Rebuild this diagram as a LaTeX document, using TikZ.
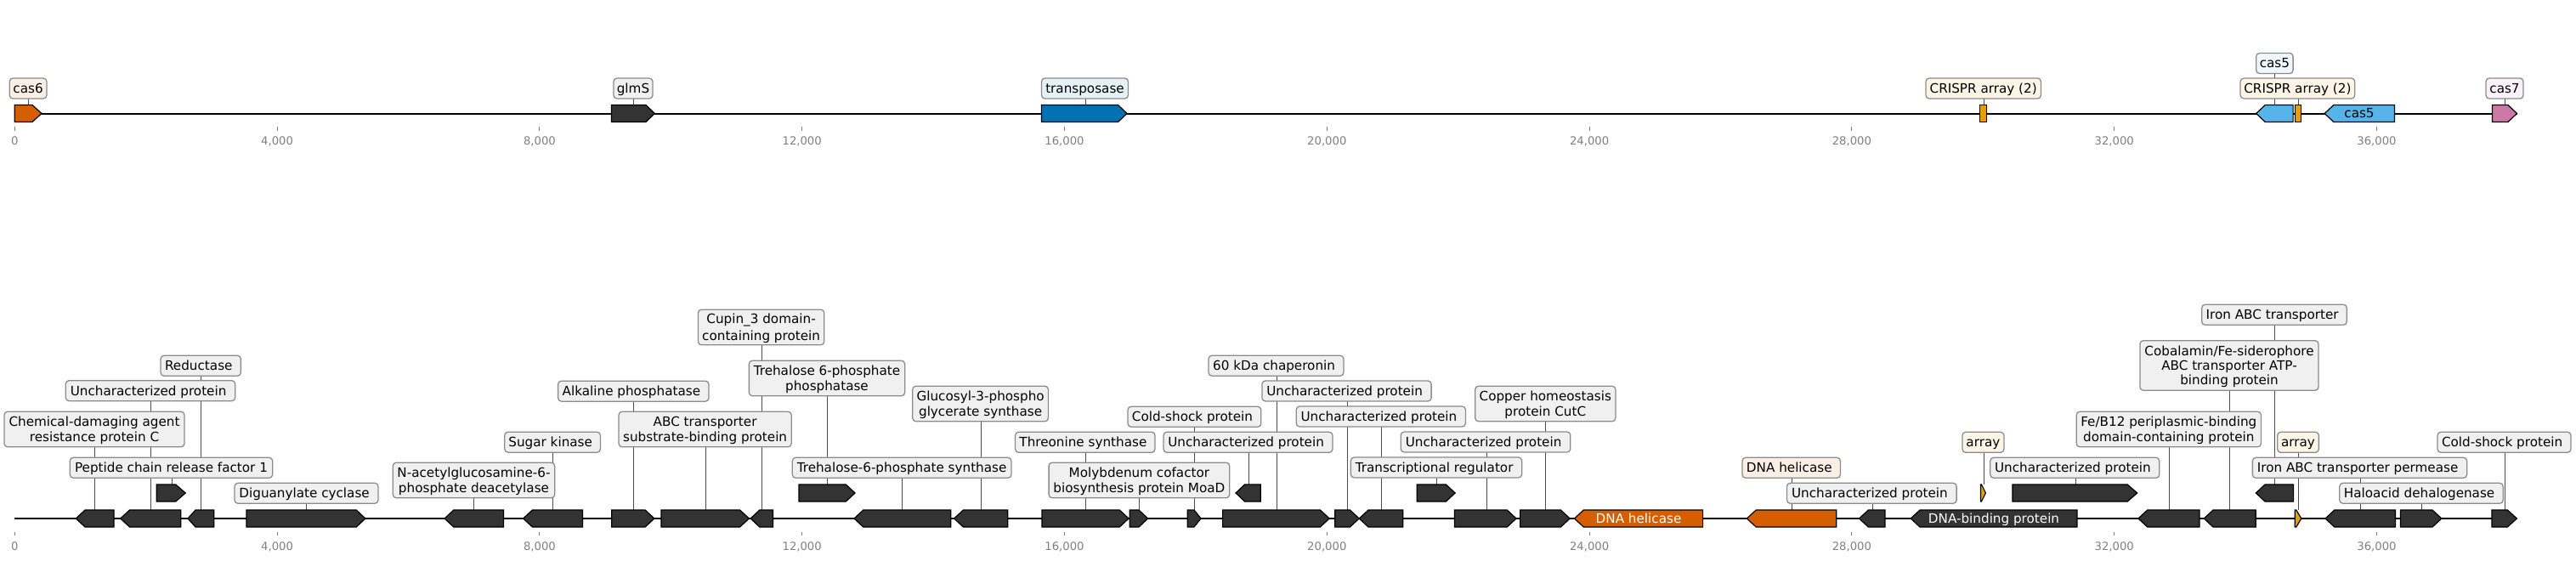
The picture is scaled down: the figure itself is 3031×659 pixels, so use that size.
\documentclass[tikz,border=0pt]{standalone}
\usepackage{fontspec}
\setmainfont{DejaVu Sans}
\definecolor{dk}{HTML}{333333}
\definecolor{orng}{HTML}{D55E00}
\definecolor{yel}{HTML}{E69F00}
\definecolor{blu}{HTML}{0072B2}
\definecolor{sky}{HTML}{56B4E9}
\definecolor{pnk}{HTML}{CC79A7}
\definecolor{lgray}{HTML}{F0F0F0}
\definecolor{boxedge}{HTML}{8C8C8C}
\definecolor{connc}{HTML}{4D4D4D}
\definecolor{tickc}{HTML}{808080}
\newcommand\lblfont{\fontsize{7.6}{8.65}\selectfont}
\newcommand\tickfont{\fontsize{6.6}{7.9}\selectfont}
\newcommand\ms{\rule[-1.625pt]{0pt}{8.65pt}}
\newcommand\tsp{\hspace*{2.4pt}}
\pgfdeclarelayer{bg}
\pgfsetlayers{bg,main}
% rightward / leftward gene: x1, x2, ytop, head, colour
\newcommand\gR[5]{\filldraw[feat, fill=#5] (#1,#3) -- ({#2-#4},#3) -- (#2,{#3+10}) -- ({#2-#4},{#3+20}) -- (#1,{#3+20}) -- cycle;}
\newcommand\gL[5]{\filldraw[feat, fill=#5] (#2,#3) -- ({#1+#4},#3) -- (#1,{#3+10}) -- ({#1+#4},{#3+20}) -- (#2,{#3+20}) -- cycle;}
% label: name, line x, feature top y, box cx, box cy, box width, options, text
\newcommand\LB[8]{%
  \coordinate (c#1) at (#2,#3);
  \node[#7, bw=#6] (l#1) at (#4,#5) {#8};
  \begin{pgfonlayer}{bg}\draw[cn] (c#1) -- (c#1 |- l#1.center);\end{pgfonlayer}}
\begin{document}
\begin{tikzpicture}[x=0.5pt,y=-0.5pt,
  feat/.style={draw=black, line width=0.6pt, line join=miter},
  lbl/.style={draw=boxedge, fill=#1, line width=0.65pt, rounded corners=2pt, inner sep=0pt, align=center, font=\lblfont, text=black},
  lbl/.default=lgray,
  bw/.style={minimum width=#1*0.5pt},
  l1/.style={minimum height=12pt},
  l2/.style={minimum height=20.8pt},
  l3/.style={minimum height=29.3pt},
  cn/.style={draw=connc, line width=0.5pt},
  axl/.style={line width=1pt, draw=black},
  tk/.style={draw=tickc, line width=0.5pt},
  ticklbl/.style={font=\tickfont, text=tickc, anchor=base, inner sep=0pt},
  inl/.style={font=\lblfont, inner sep=0pt}]
\useasboundingbox (0,0) rectangle (3031,659);
\begin{pgfonlayer}{bg}
  \fill[white] (0,0) rectangle (3031,659);
  \draw[axl] (17.3,133.5) -- (2962,133.5);
  \draw[axl] (17.3,610) -- (2962,610);
\end{pgfonlayer}
% ticks
\foreach \k/\t in {0/0,1/{4,000},2/{8,000},3/{12,000},4/{16,000},5/{20,000},6/{24,000},7/{28,000},8/{32,000},9/{36,000}} {
  \pgfmathsetmacro\xx{17.3+\k*308.8}
  \draw[tk] (\xx,149.3) -- (\xx,154);
  \node[ticklbl] (tt\k) at (\xx,170.8) {\t};
  \draw[tk] (\xx,625.7) -- (\xx,630);
  \node[ticklbl] (tb\k) at (\xx,647.1) {\t};
}
% ---------- top track features ----------
\gR{17.3}{49}{123.5}{11}{orng}
\gR{719.4}{770.4}{123.5}{10.5}{dk}
\gR{1225.5}{1326}{123.5}{10.5}{blu}
\filldraw[feat, fill=yel] (2329.8,123.5) rectangle (2337.3,143.5);
\gL{2654.7}{2698.1}{123.5}{10.6}{sky}
\filldraw[feat, fill=yel] (2700.3,123.5) rectangle (2707.7,143.5);
\gL{2735.2}{2817.4}{123.5}{10.6}{sky}
\gR{2932.4}{2961.5}{123.5}{10.5}{pnk}
\node[inl] (it7) at (2776,133.5) {\ms cas5};
% ---------- bottom track features ----------
\gL{89.3}{134}{600}{10.8}{dk}
\gL{141.7}{212.7}{600}{10.8}{dk}
\gR{184.3}{218.3}{570}{11.6}{dk}
\gL{221}{251.7}{600}{9}{dk}
\gR{290}{430}{600}{10.8}{dk}
\gL{523}{592.4}{600}{10.8}{dk}
\gL{615.6}{685.4}{600}{10.8}{dk}
\gR{719.7}{769.9}{600}{10.8}{dk}
\gR{778}{881.4}{600}{10.8}{dk}
\gL{883.2}{909.5}{600}{10.5}{dk}
\gR{940}{1006.1}{570}{10.8}{dk}
\gL{1005}{1118.7}{600}{10.8}{dk}
\gL{1122.6}{1185.7}{600}{10.8}{dk}
\gR{1226}{1328.1}{600}{10.8}{dk}
\gR{1329.2}{1350.6}{600}{10.6}{dk}
\gR{1397.2}{1413}{600}{8}{dk}
\gL{1454}{1483.2}{570}{10.5}{dk}
\gR{1438.6}{1564.2}{600}{10.8}{dk}
\gR{1570.8}{1599.2}{600}{10.8}{dk}
\gL{1599.2}{1650.8}{600}{10.8}{dk}
\gR{1667.3}{1712.2}{570}{10.8}{dk}
\gR{1711.5}{1784.1}{600}{10.8}{dk}
\gR{1788.6}{1847.2}{600}{10.8}{dk}
\gL{1852.5}{2003.6}{600}{10.8}{orng}
\gL{2055.4}{2160.7}{600}{10.8}{orng}
\gL{2187.5}{2217.9}{600}{10.8}{dk}
\gL{2248.2}{2443.9}{600}{10.8}{dk}
\gR{2330.4}{2336.4}{570}{5}{yel}
\gR{2367.9}{2514.7}{570}{11.5}{dk}
\gL{2515.9}{2587.9}{600}{10.8}{dk}
\gL{2593.2}{2654.3}{600}{10.8}{dk}
\gL{2654.3}{2698.6}{570}{10.8}{dk}
\gR{2700.2}{2707.8}{600}{6}{yel}
\gL{2736}{2818.5}{600}{10.8}{dk}
\gR{2824.5}{2872.8}{600}{10.8}{dk}
\gR{2932}{2961.4}{600}{11}{dk}
\node[inl, text=white] (i24) at (1928,610) {\ms DNA helicase};
\node[inl, text=white] (i27) at (2346,610) {\ms DNA-binding protein};
% ---------- top labels ----------
\LB{t1}{33.7}{123.5}{33.1}{104}{43.8}{lbl=orng!10,l1}{\ms cas6}
\LB{t2}{745.4}{123.5}{745}{104}{46}{lbl,l1}{\ms glmS}
\LB{t3}{1277.5}{123.5}{1276.5}{104}{102}{lbl=blu!10,l1}{\ms transposase}
\LB{t4}{2334.6}{123.5}{2333.7}{104}{135.4}{lbl=yel!10,l1}{\ms CRISPR array (2)}
\LB{t5}{2676}{123.5}{2676.4}{74.5}{43.4}{lbl=sky!10,l1}{\ms cas5}
\LB{t6}{2704.5}{123.5}{2703.4}{104}{134.7}{lbl=yel!10,l1}{\ms CRISPR array (2)}
\LB{t8}{2947}{123.5}{2947}{104}{44}{lbl=pnk!10,l1}{\ms cas7}
% ---------- bottom labels ----------
\LB{b1}{111.3}{600}{111}{505}{212}{lbl,l2}{\ms Chemical-damaging agent\\\ms resistance protein C}
\LB{b2}{177.3}{600}{177}{459.7}{199.4}{lbl,l1}{\ms Uncharacterized protein\tsp}
\LB{b3}{202.3}{570}{201.5}{550.3}{238.4}{lbl,l1}{\ms Peptide chain release factor 1}
\LB{b4}{236.7}{600}{236.2}{430.3}{94.3}{lbl,l1}{\ms Reductase\tsp}
\LB{b5}{360.7}{600}{360.5}{580.3}{169}{lbl,l1}{\ms Diguanylate cyclase\tsp}
\LB{b6}{557.3}{600}{557.5}{565}{190.4}{lbl,l2}{\ms N-acetylglucosamine-6-\\\ms phosphate deacetylase}
\LB{b7}{650.3}{600}{650.1}{520.2}{112.6}{lbl,l1}{\ms Sugar kinase\tsp}
\LB{b8}{745.3}{600}{745.3}{460.2}{177.4}{lbl,l1}{\ms Alkaline phosphatase\tsp}
\LB{b9}{830.2}{600}{829.6}{505}{203.1}{lbl,l2}{\ms ABC transporter\\\ms substrate-binding protein}
\LB{b10}{896.5}{600}{895.6}{385}{148.4}{lbl,l2}{\ms Cupin\_3 domain-\\\ms containing protein}
\LB{b11}{973.7}{570}{973}{445}{183.3}{lbl,l2}{\ms Trehalose 6-phosphate\\\ms phosphatase}
\LB{b12}{1061.5}{600}{1061.1}{550.3}{257.6}{lbl,l1}{\ms Trehalose-6-phosphate synthase}
\LB{b13}{1154.5}{600}{1153.6}{475}{159.6}{lbl,l2}{\ms Glucosyl-3-phospho\\\ms glycerate synthase}
\LB{b14}{1277.3}{600}{1276.8}{520.3}{164.5}{lbl,l1}{\ms Threonine synthase\tsp}
\LB{b15}{1340.4}{600}{1340.4}{565}{212.6}{lbl,l2}{\ms Molybdenum cofactor\\\ms biosynthesis protein MoaD}
\LB{b16}{1405.3}{600}{1405.4}{490.3}{156.8}{lbl,l1}{\ms Cold-shock protein\tsp}
\LB{b17}{1469.4}{570}{1468.5}{520.3}{199}{lbl,l1}{\ms Uncharacterized protein\tsp}
\LB{b18}{1502.4}{600}{1501.5}{430.2}{159}{lbl,l1}{\ms 60 kDa chaperonin\tsp}
\LB{b19}{1585.2}{600}{1584.5}{460}{199.2}{lbl,l1}{\ms Uncharacterized protein\tsp}
\LB{b20}{1625.2}{600}{1624.8}{490}{199.2}{lbl,l1}{\ms Uncharacterized protein\tsp}
\LB{b21}{1690.4}{570}{1690}{550}{201.3}{lbl,l1}{\ms Transcriptional regulator\tsp}
\LB{b22}{1749.4}{600}{1748}{520}{199.6}{lbl,l1}{\ms Uncharacterized protein\tsp}
\LB{b23}{1818.5}{600}{1818.3}{475}{165.2}{lbl,l2}{\ms Copper homeostasis\\\ms protein CutC}
\LB{b25}{2108.2}{600}{2107.7}{550.3}{115.4}{lbl=orng!10,l1}{\ms DNA helicase\tsp}
\LB{b26}{2203.2}{600}{2202.3}{580.3}{199.6}{lbl,l1}{\ms Uncharacterized protein\tsp}
\LB{b28}{2334.3}{570}{2333.4}{520.3}{49}{lbl=yel!10,l1}{\ms array}
\LB{b29}{2442.4}{570}{2441.3}{550.3}{199}{lbl,l1}{\ms Uncharacterized protein\tsp}
\LB{b30}{2552.5}{600}{2551.8}{505}{217.3}{lbl,l2}{\ms Fe/B12 periplasmic-binding\\\ms domain-containing protein}
\LB{b31}{2623.3}{600}{2623}{430}{210.1}{lbl,l3}{\ms Cobalamin/Fe-siderophore\\\ms ABC transporter ATP-\\\ms binding protein}
\LB{b32}{2676}{570}{2676}{370.3}{170.7}{lbl,l1}{\ms Iron ABC transporter\tsp}
\LB{b33}{2704.2}{600}{2704}{520.3}{48.7}{lbl=yel!10,l1}{\ms array}
\LB{b34}{2777}{600}{2776.5}{550.3}{252.3}{lbl,l1}{\ms Iron ABC transporter permease\tsp}
\LB{b35}{2849.5}{600}{2849}{580.3}{192.4}{lbl,l1}{\ms Haloacid dehalogenase\tsp}
\LB{b36}{2947.3}{600}{2946.5}{520.3}{157}{lbl,l1}{\ms Cold-shock protein\tsp}
\end{tikzpicture}
\end{document}
